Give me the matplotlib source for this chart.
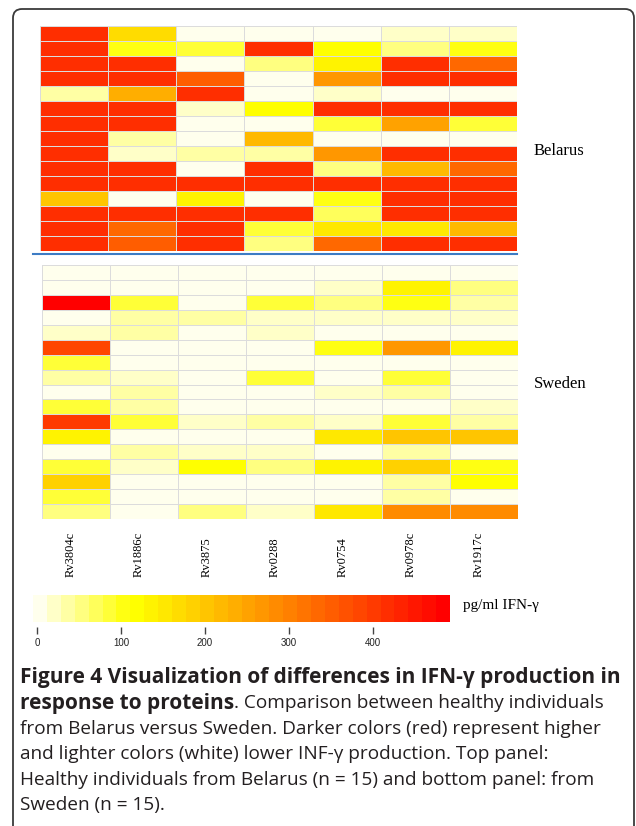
import colorsys
import numpy as np
import matplotlib
matplotlib.use("Agg")
import matplotlib.pyplot as plt
import matplotlib.colorbar as mcolorbar
from matplotlib.colors import ListedColormap, Normalize
from matplotlib.patches import FancyBboxPatch
from matplotlib.transforms import IdentityTransform, blended_transform_factory
from matplotlib.lines import Line2D

proteins = ["Rv3804c", "Rv1886c", "Rv3875", "Rv0288", "Rv0754", "Rv0978c", "Rv1917c"]

# pg/ml IFN-gamma, one row per healthy individual
belarus = [
    [410, 169, 3, 3, 3, 20, 20],
    [410, 103, 86, 410, 119, 53, 103],
    [410, 410, 3, 53, 140, 410, 335],
    [410, 410, 355, 3, 268, 410, 410],
    [36, 235, 410, 3, 20, 3, 3],
    [410, 410, 20, 119, 410, 410, 410],
    [410, 410, 3, 3, 80, 252, 80],
    [410, 36, 3, 219, 3, 3, 3],
    [410, 20, 36, 36, 268, 410, 410],
    [410, 410, 3, 410, 53, 219, 335],
    [410, 410, 410, 410, 410, 410, 410],
    [202, 3, 140, 3, 103, 410, 410],
    [410, 410, 410, 410, 70, 410, 410],
    [410, 335, 410, 86, 152, 152, 219],
    [410, 355, 410, 53, 335, 410, 410],
]

sweden = [
    [3, 3, 3, 3, 3, 3, 3],
    [3, 3, 3, 3, 20, 140, 53],
    [484, 86, 3, 86, 53, 103, 36],
    [3, 36, 36, 20, 20, 20, 20],
    [20, 36, 3, 20, 3, 3, 3],
    [385, 3, 3, 3, 103, 275, 140],
    [86, 3, 3, 3, 3, 3, 3],
    [36, 20, 3, 86, 3, 86, 3],
    [3, 36, 3, 3, 20, 30, 3],
    [86, 36, 3, 3, 3, 3, 20],
    [401, 86, 20, 30, 20, 86, 30],
    [140, 3, 3, 3, 152, 202, 195],
    [3, 30, 20, 20, 3, 36, 3],
    [86, 20, 119, 53, 140, 185, 103],
    [180, 3, 3, 3, 3, 36, 119],
    [86, 3, 3, 3, 3, 30, 3],
    [53, 3, 53, 20, 152, 285, 285],
]

cbar_ticks = [0, 100, 200, 300, 400]
vmin, vmax = -5, 492


def heat_colors(n):
    # same recipe as R's heat.colors, reversed (light -> red)
    j = n // 4
    i = n - j
    cols = [colorsys.hsv_to_rgb(h, 1, 1) for h in np.linspace(0, 1 / 6, i)]
    cols += [colorsys.hsv_to_rgb(1 / 6, s, 1) for s in np.linspace(1 - 1 / (2 * j), 1 / (2 * j), j)]
    return cols[::-1]


cmap = ListedColormap(heat_colors(30))
norm = Normalize(vmin=vmin, vmax=vmax)

W, H = 636, 826
fig = plt.figure(figsize=(W / 100, H / 100), dpi=100)


def box(x0, y0, x1, y1):
    return [x0 / W, 1 - y1 / H, (x1 - x0) / W, (y1 - y0) / H]


def heat(ax, data):
    data = np.array(data)
    ax.pcolormesh(data, cmap=cmap, norm=norm, edgecolors="#dcdcdc", linewidth=0.7)
    ax.set_xlim(0, data.shape[1])
    ax.set_ylim(data.shape[0], 0)
    ax.axis("off")


ax1 = fig.add_axes(box(40, 26, 517, 251))
heat(ax1, belarus)
ax2 = fig.add_axes(box(42, 265, 518, 519))
heat(ax2, sweden)

fig.add_artist(Line2D([33 / W, 517 / W], [1 - 254 / H] * 2, color="#3d7cc4", lw=1.5))

serif = "Liberation Serif"
fig.text(534 / W, 1 - 151 / H, "Belarus", family=serif, fontsize=12, va="center")
fig.text(534 / W, 1 - 384 / H, "Sweden", family=serif, fontsize=12, va="center")

tr = blended_transform_factory(ax2.transData, fig.transFigure)
for k, name in enumerate(proteins):
    ax2.text(k + 0.42, 1 - 577 / H, name, transform=tr, family=serif, fontsize=9,
             rotation=90, ha="center", va="bottom")

# colour key
cax = fig.add_axes(box(33, 595, 450, 622))
cb = mcolorbar.ColorbarBase(cax, cmap=cmap, norm=norm, orientation="horizontal")
cb.outline.set_visible(False)
cb.set_ticks([])
tax = fig.add_axes(box(33, 627, 450, 627.1))
tax.set_xlim(vmin, vmax)
tax.set_yticks([])
for s in tax.spines.values():
    s.set_visible(False)
tax.set_xticks(cbar_ticks)
tax.set_xticklabels([str(t) for t in cbar_ticks],
                    family=["Liberation Sans Narrow", "Liberation Sans"], fontsize=7)
tax.tick_params(axis="x", length=5, width=1, color="#444444", pad=3, labelcolor="#222222")
fig.text(463 / W, 1 - 606 / H, "pg/ml IFN-\u03b3", family=serif, fontsize=11, va="center")

# caption
cap = ["Open Sans", "DejaVu Sans"]
cc = "#231f20"
fsz = 13.7
fsb = 15
lh = 25.4
fig.text(20 / W, 1 - 678 / H, "Figure 4 Visualization of differences in IFN-\u03b3 production in",
         family=cap, fontsize=fsb, weight="bold", color=cc, va="center")
t2 = fig.text(20 / W, 1 - (678 + lh) / H, "response to proteins",
              family=cap, fontsize=fsb, weight="bold", color=cc, va="center")
ax2.annotate(". Comparison between healthy individuals", xy=(1, 0.5), xycoords=t2,
             family=cap, fontsize=fsz, color=cc, va="center", ha="left", annotation_clip=False)
rest = [
    "from Belarus versus Sweden. Darker colors (red) represent higher",
    "and lighter colors (white) lower INF-\u03b3 production. Top panel:",
    "Healthy individuals from Belarus (n = 15) and bottom panel: from",
    "Sweden (n = 15).",
]
for n, line in enumerate(rest):
    fig.text(20 / W, 1 - (678 + lh * (n + 2)) / H, line, family=cap, fontsize=fsz,
             color=cc, va="center")

frame = FancyBboxPatch((13, -100), 621, 817 + 100, boxstyle="round,pad=0,rounding_size=9",
                       transform=IdentityTransform(), fill=False, lw=1.3, ec="#3a3a3a")
frame.set_clip_on(False)
fig.add_artist(frame)

fig.savefig("out.png", dpi=100)
